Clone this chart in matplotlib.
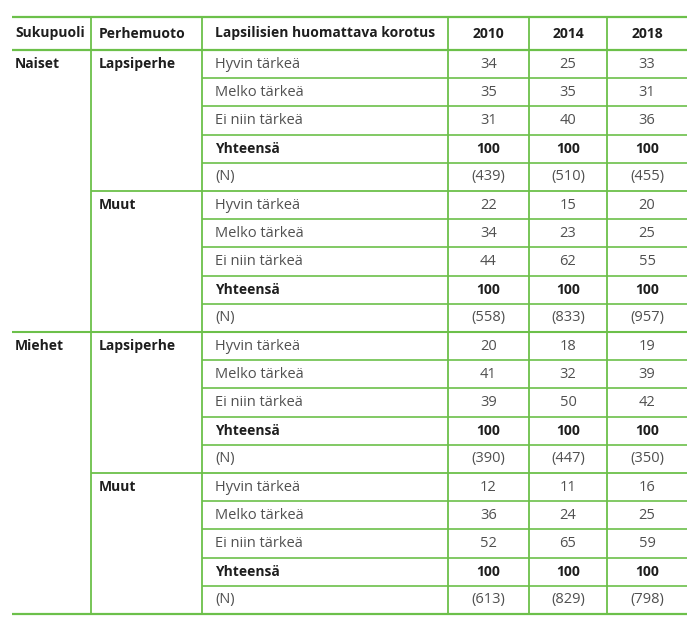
import matplotlib.pyplot as plt

plt.rcParams['font.family'] = ['Open Sans', 'DejaVu Sans']

headers = ['Sukupuoli', 'Perhemuoto', 'Lapsilisien huomattava korotus']
years = ['2010', '2014', '2018']
genders = ['Naiset', 'Miehet']
families = ['Lapsiperhe', 'Muut']
answers = ['Hyvin tärkeä', 'Melko tärkeä', 'Ei niin tärkeä', 'Yhteensä', '(N)']

# shares (%) per answer, columns 2010 / 2014 / 2018
naiset_lapsiperhe = [[34, 25, 33], [35, 35, 31], [31, 40, 36], [100, 100, 100]]
naiset_muut = [[22, 15, 20], [34, 23, 25], [44, 62, 55], [100, 100, 100]]
miehet_lapsiperhe = [[20, 18, 19], [41, 32, 39], [39, 50, 42], [100, 100, 100]]
miehet_muut = [[12, 11, 16], [36, 24, 25], [52, 65, 59], [100, 100, 100]]

n_naiset_lapsiperhe = [439, 510, 455]
n_naiset_muut = [558, 833, 957]
n_miehet_lapsiperhe = [390, 447, 350]
n_miehet_muut = [613, 829, 798]

groups = [
    ('Naiset', 'Lapsiperhe', naiset_lapsiperhe, n_naiset_lapsiperhe),
    ('Naiset', 'Muut', naiset_muut, n_naiset_muut),
    ('Miehet', 'Lapsiperhe', miehet_lapsiperhe, n_miehet_lapsiperhe),
    ('Miehet', 'Muut', miehet_muut, n_miehet_muut),
]

GREEN = '#6cc04a'
DARK = '#1e1e1e'
GREY = '#505050'

# layout in pixels
x_left, x_right = 12, 687
col_x = [12, 91, 202, 448, 529, 607, 687]
y_top, y_head = 17, 50
row_h = 28.2

fig = plt.figure(figsize=(6.98, 6.31), dpi=100)
ax = fig.add_axes([0, 0, 1, 1])
ax.set_xlim(0, 698)
ax.set_ylim(631, 0)
ax.axis('off')

n_rows = len(groups) * len(answers)
y_bottom = y_head + n_rows * row_h

# header
head_y = (y_top + y_head) / 2
pads = [3, 8, 13]
for i, h in enumerate(headers):
    ax.text(col_x[i] + pads[i], head_y, h, fontsize=10, fontweight='bold',
            color=DARK, va='center', ha='left')
for j, yr in enumerate(years):
    ax.text((col_x[3 + j] + col_x[4 + j]) / 2, head_y, yr, fontsize=10,
            fontweight='bold', color=DARK, va='center', ha='center')

# body
row = 0
prev_gender = None
for gender, family, shares, counts in groups:
    top = y_head + row * row_h
    if gender != prev_gender:
        ax.text(col_x[0] + 3, top + row_h / 2, gender, fontsize=10,
                fontweight='bold', color=DARK, va='center')
        if prev_gender is not None:
            ax.hlines(top, x_left, x_right, color=GREEN, lw=1.5)
    else:
        ax.hlines(top, col_x[1], x_right, color=GREEN, lw=1.3)
    prev_gender = gender
    ax.text(col_x[1] + 8, top + row_h / 2, family, fontsize=10,
            fontweight='bold', color=DARK, va='center')
    for k, ans in enumerate(answers):
        cy = y_head + (row + k) * row_h + row_h / 2
        if k > 0:
            ax.hlines(cy - row_h / 2, col_x[2], x_right, color=GREEN, lw=1.2)
        bold = ans == 'Yhteensä'
        fs = 10 if bold else 10.5
        ax.text(col_x[2] + 13, cy, ans, fontsize=fs,
                fontweight='bold' if bold else 'normal',
                color=DARK if bold else GREY, va='center')
        for j in range(len(years)):
            if ans == '(N)':
                val = '(%d)' % counts[j]
            else:
                val = str(shares[k][j])
            ax.text((col_x[3 + j] + col_x[4 + j]) / 2, cy, val, fontsize=fs,
                    fontweight='bold' if bold else 'normal',
                    color=DARK if bold else GREY, va='center', ha='center')
    row += len(answers)

# frame lines
ax.hlines([y_top, y_head, y_bottom], x_left, x_right, color=GREEN, lw=1.6)
ax.vlines(col_x[1:6], y_top, y_bottom, color=GREEN, lw=1.3)

fig.savefig('out.png', dpi=100)
